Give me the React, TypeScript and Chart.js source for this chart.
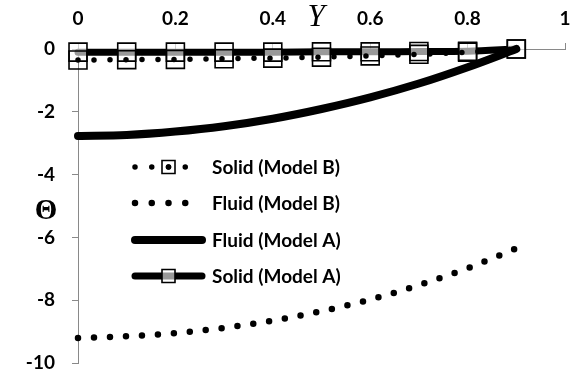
import React, { useEffect, useRef } from 'react';
import { Chart, registerables } from 'chart.js';

Chart.register(...registerables);

// ---- data ----
const yPositions = [0, 0.1, 0.2, 0.3, 0.4, 0.5, 0.6, 0.7, 0.8, 0.9];
const solidModelB = [-0.35, -0.34, -0.33, -0.31, -0.29, -0.26, -0.22, -0.17, -0.1, 0];
const fluidModelB = [-9.2, -9.15, -9.05, -8.88, -8.65, -8.35, -7.98, -7.52, -6.98, -6.35];
const fluidModelA = [-2.77, -2.74, -2.63, -2.46, -2.22, -1.91, -1.54, -1.1, -0.58, 0];
const solidModelA = [-0.1, -0.1, -0.1, -0.1, -0.1, -0.09, -0.09, -0.08, -0.07, 0];
const seriesLabels = ['Solid (Model B)', 'Fluid (Model B)', 'Fluid (Model A)', 'Solid (Model A)'];
const xTickValues = [0, 0.2, 0.4, 0.6, 0.8, 1];
const yTickValues = [0, -2, -4, -6, -8, -10];
const xTitle = 'Y';
const yTitle = 'Θ';

const toPoints = (vals: number[]) => vals.map((v, i) => ({ x: yPositions[i], y: v }));

const FONT = 'Lato, "Open Sans", sans-serif';

const overlayPlugin = {
  id: 'overlay',
  afterDraw(chart: any) {
    const ctx: CanvasRenderingContext2D = chart.ctx;
    ctx.save();
    ctx.fillStyle = '#000';
    ctx.textAlign = 'center';
    ctx.textBaseline = 'middle';
    ctx.font = 'italic 31px "Liberation Serif", serif';
    ctx.fillText(xTitle, 316, 18);
    ctx.font = 'bold 29px "Liberation Serif", serif';
    ctx.fillText(yTitle, 46, 212);

    const rowY = [167, 203, 240, 276];
    const x0 = 135;
    const x1 = 202;
    chart.data.datasets.forEach((ds: any, i: number) => {
      const y = rowY[i];
      ctx.save();
      ctx.strokeStyle = ds.borderColor;
      ctx.lineWidth = ds.borderWidth;
      ctx.lineCap = ds.borderCapStyle || 'butt';
      if (ds.borderDash && ds.borderDash.length) {
        ctx.setLineDash([0, (x1 - x0) / 4]);
      } else {
        ctx.setLineDash([]);
      }
      ctx.beginPath();
      ctx.moveTo(x0, y);
      ctx.lineTo(x1, y);
      ctx.stroke();
      ctx.setLineDash([]);
      if (ds.pointRadius > 0) {
        const side = 13;
        const cx = (x0 + x1) / 2;
        ctx.fillStyle = ds.pointBackgroundColor;
        ctx.strokeStyle = ds.pointBorderColor;
        ctx.lineWidth = ds.pointBorderWidth;
        ctx.beginPath();
        ctx.rect(cx - side / 2, y - side / 2, side, side);
        ctx.fill();
        ctx.stroke();
        if (ds.borderDash && ds.borderDash.length) {
          ctx.fillStyle = '#000';
          ctx.beginPath();
          ctx.arc(cx, y, ds.borderWidth / 2, 0, Math.PI * 2);
          ctx.fill();
        }
      }
      ctx.restore();
      ctx.fillStyle = '#000';
      ctx.textAlign = 'left';
      ctx.textBaseline = 'middle';
      ctx.font = `bold 19px ${FONT}`;
      ctx.fillText(ds.label, 212, y + 1);
    });
    ctx.restore();
  },
};

export default function App() {
  const canvasRef = useRef<HTMLCanvasElement | null>(null);

  useEffect(() => {
    if (!canvasRef.current) return;
    const chart = new Chart(canvasRef.current, {
      type: 'line',
      data: {
        datasets: [
          {
            label: seriesLabels[0],
            data: toPoints(solidModelB),
            borderColor: '#000',
            borderWidth: 5.5,
            borderDash: [0, 16],
            borderCapStyle: 'round',
            cubicInterpolationMode: 'monotone',
            pointStyle: 'rect',
            pointRadius: 12.7,
            pointBorderWidth: 1.6,
            pointBorderColor: '#000',
            pointBackgroundColor: 'rgba(0,0,0,0)',
            clip: false,
          } as any,
          {
            label: seriesLabels[1],
            data: toPoints(fluidModelB),
            borderColor: '#000',
            borderWidth: 6.5,
            borderDash: [0, 16],
            borderCapStyle: 'round',
            cubicInterpolationMode: 'monotone',
            pointRadius: 0,
            clip: false,
          } as any,
          {
            label: seriesLabels[2],
            data: toPoints(fluidModelA),
            borderColor: '#000',
            borderWidth: 8,
            borderCapStyle: 'round',
            cubicInterpolationMode: 'monotone',
            pointRadius: 0,
            clip: false,
          } as any,
          {
            label: seriesLabels[3],
            data: toPoints(solidModelA),
            borderColor: '#000',
            borderWidth: 7,
            borderCapStyle: 'round',
            cubicInterpolationMode: 'monotone',
            pointStyle: 'rect',
            pointRadius: 12.7,
            pointBorderWidth: 1.6,
            pointBorderColor: '#000',
            pointBackgroundColor: 'rgba(255,255,255,0.6)',
            clip: false,
          } as any,
        ],
      },
      options: {
        animation: false,
        responsive: true,
        maintainAspectRatio: false,
        layout: { autoPadding: false, padding: { left: 0, right: 9, top: 0, bottom: 14 } },
        plugins: {
          legend: { display: false },
          tooltip: { enabled: false },
          title: { display: false },
        },
        scales: {
          x: {
            type: 'linear',
            position: 'top',
            min: 0,
            max: 1,
            afterFit: (s: any) => {
              s.height = 49;
              s.paddingLeft = 0;
              s.paddingRight = 0;
            },
            afterBuildTicks: (s: any) => { s.ticks = xTickValues.map((v) => ({ value: v })); },
            ticks: {
              color: '#000',
              padding: 13,
              maxRotation: 0,
              autoSkip: false,
              font: { family: FONT, size: 19, weight: 'bold' },
              callback: (v: any) => String(Math.round(Number(v) * 10) / 10),
            },
            grid: { drawOnChartArea: false, drawTicks: true, tickLength: 6, color: '#898989' },
            border: { display: true, color: '#898989', width: 1 },
          },
          y: {
            type: 'linear',
            position: 'left',
            min: -10,
            max: 0,
            afterFit: (s: any) => {
              s.width = 78;
              s.paddingTop = 0;
              s.paddingBottom = 0;
            },
            afterBuildTicks: (s: any) => { s.ticks = yTickValues.map((v) => ({ value: v })); },
            ticks: {
              color: '#000',
              padding: 17,
              autoSkip: false,
              font: { family: FONT, size: 19, weight: 'bold' },
              callback: (v: any) => String(v),
            },
            grid: { drawOnChartArea: false, drawTicks: true, tickLength: 6, color: '#898989' },
            border: { display: true, color: '#898989', width: 1 },
          },
        },
      } as any,
      plugins: [overlayPlugin],
    });
    return () => chart.destroy();
  }, []);

  return (
    <div style={{ position: 'fixed', left: 0, top: 0, width: 574, height: 377, background: '#fff' }}>
      <canvas ref={canvasRef} />
    </div>
  );
}
